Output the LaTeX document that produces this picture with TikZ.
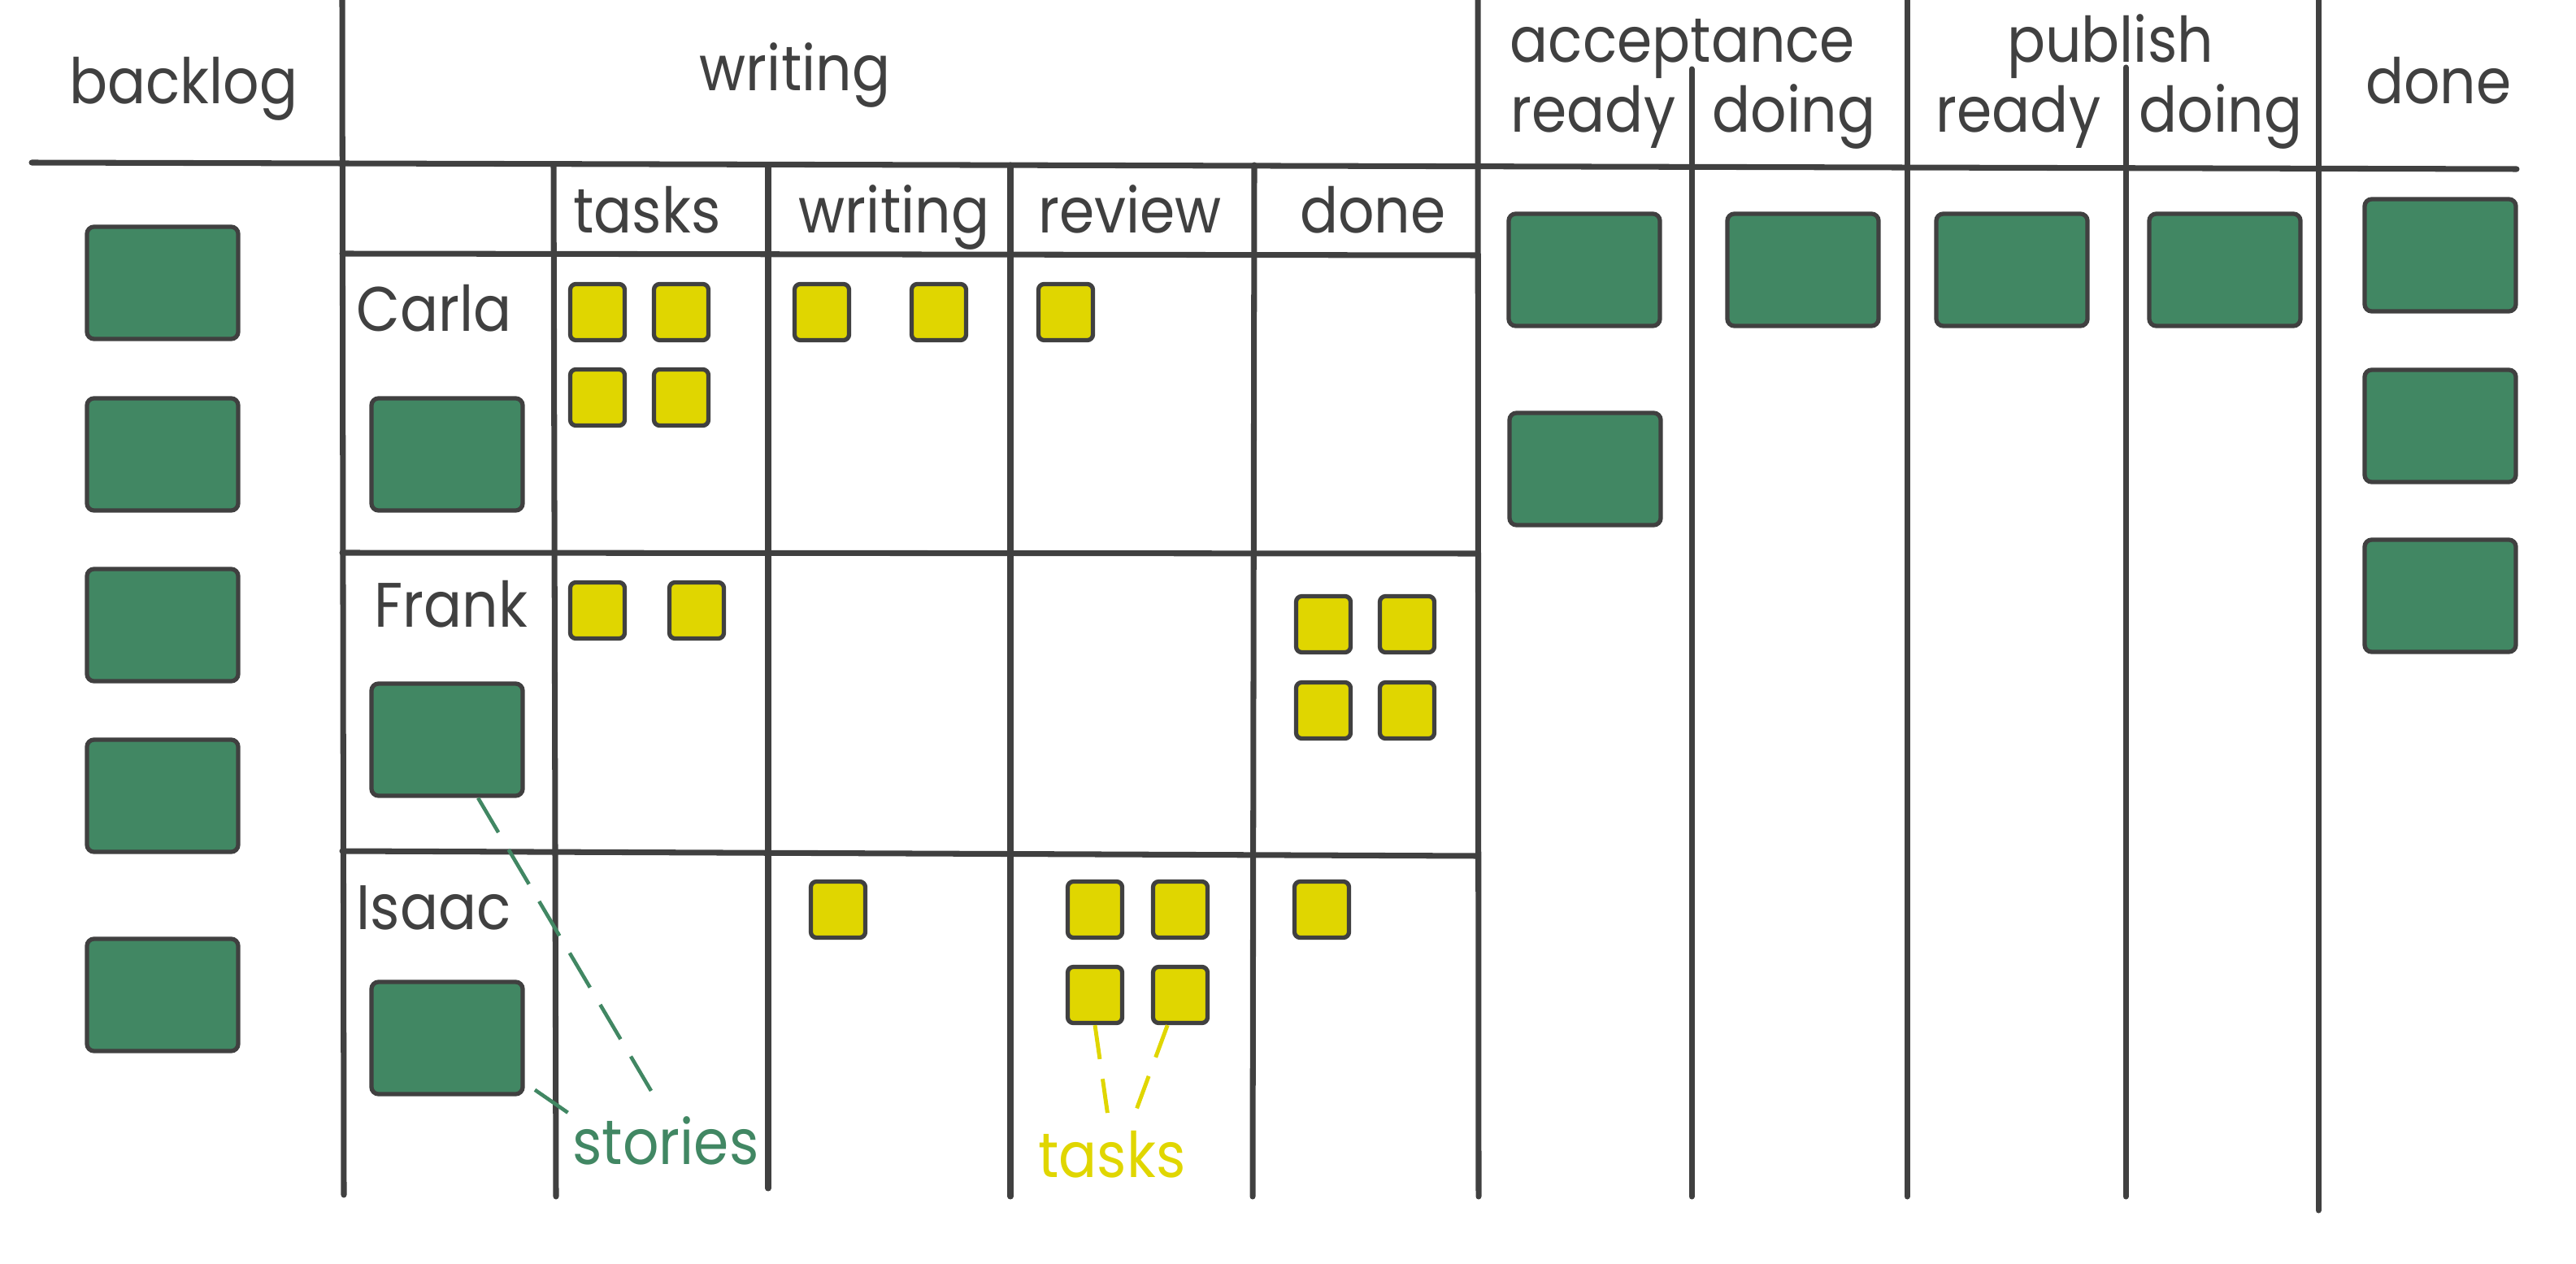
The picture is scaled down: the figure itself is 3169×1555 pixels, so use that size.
\documentclass[tikz,border=0pt]{standalone}
\usepackage{fontspec}
\setmainfont{Poppins}[FakeStretch=0.9]
\usepackage{xcolor}
\usepackage{tikz}
\definecolor{storygreen}{RGB}{65,135,99}
\definecolor{taskyellow}{RGB}{224,214,0}
\definecolor{boardgray}{RGB}{64,64,64}
\tikzset{
	story/.style={rectangle,rounded corners=2.5pt,draw=boardgray,fill=storygreen,line width=1.5pt,
		minimum width=1.86cm,minimum height=1.38cm,inner sep=0pt},
	task/.style={rectangle,rounded corners=2pt,draw=boardgray,fill=taskyellow,line width=1.5pt,
		minimum width=0.67cm,minimum height=0.69cm,inner sep=0pt},
	board/.style={boardgray,line width=2pt,line cap=round},
	head/.style={font=\fontsize{22}{26}\selectfont,text=boardgray,inner sep=0pt,anchor=base},
	note/.style={font=\fontsize{22}{26}\selectfont,inner sep=0pt,anchor=base},
	storyline/.style={storygreen,line width=1.3pt,dash pattern=on 14pt off 7pt},
	taskline/.style={taskyellow,line width=1.4pt,dash pattern=on 12pt off 7pt}
}

\begin{document}
\begin{tikzpicture}[x=0.01cm,y=-0.01cm]
	\useasboundingbox (0,0) rectangle (3169,1555);
	% board lines
	\draw[board] (39,200) -- (3096,208);
	\draw[board] (421,312) -- (1818,314);
	\draw[board] (421,680) -- (1818,681);
	\draw[board] (421,1047) -- (1818,1053);
	\draw[board] (421,0) -- (423,1470);
	\draw[board] (681,203) -- (684,1472);
	\draw[board] (945,203) -- (945,1462);
	\draw[board] (1243,203) -- (1243,1472);
	\draw[board] (1543,203) -- (1541,1472);
	\draw[board] (1818,0) -- (1819,1472);
	\draw[board] (2081,85) -- (2081,1472);
	\draw[board] (2346,0) -- (2346,1472);
	\draw[board] (2615,83) -- (2615,1472);
	\draw[board] (2852,0) -- (2852,1489);
	% column heads
	\node[head] (hbacklog) at (226,128) {backlog};
	\node[head] (hwriting) at (978,112) {writing};
	\node[head] (hacceptance) at (2070,77) {acceptance};
	\node[head] (haready) at (1960,163) {ready};
	\node[head] (hadoing) at (2207,163) {doing};
	\node[head] (hpublish) at (2596,77) {publish};
	\node[head] (hpready) at (2483,163) {ready};
	\node[head] (hpdoing) at (2732,163) {doing};
	\node[head] (hdone) at (3000,128) {done};
	\node[head] (htasks) at (796,287) {tasks};
	\node[head] (hwwriting) at (1100,287) {writing};
	\node[head] (hreview) at (1390,287) {review};
	\node[head] (hwdone) at (1689,287) {done};
	% people
	\node[head,anchor=base west] (ncarla) at (438,408) {Carla};
	\node[head,anchor=base west] (nfrank) at (460,771) {Frank};
	\node[head,anchor=base west] (nisaac) at (438,1143) {Isaac};
	% stories
	\node[story] (b1) at (200,348) {};
	\node[story] (b2) at (200,559) {};
	\node[story] (b3) at (200,769) {};
	\node[story] (b4) at (200,979) {};
	\node[story] (b5) at (200,1224) {};
	\node[story] (scarla) at (550,559) {};
	\node[story] (sfrank) at (550,910) {};
	\node[story] (sisaac) at (550,1277) {};
	\node[story] (ar1) at (1949,332) {};
	\node[story] (ar2) at (1950,577) {};
	\node[story] (ad1) at (2218,332) {};
	\node[story] (pr1) at (2475,332) {};
	\node[story] (pd1) at (2737,332) {};
	\node[story] (d1) at (3002,314) {};
	\node[story] (d2) at (3002,524) {};
	\node[story] (d3) at (3002,733) {};
	% tasks
	\node[task] (ct1) at (735,384) {};
	\node[task] (ct2) at (838,384) {};
	\node[task] (ct3) at (735,489) {};
	\node[task] (ct4) at (838,489) {};
	\node[task] (cw1) at (1011,384) {};
	\node[task] (cw2) at (1155,384) {};
	\node[task] (cr1) at (1311,384) {};
	\node[task] (ft1) at (735,751) {};
	\node[task] (ft2) at (857,751) {};
	\node[task] (fd1) at (1628,768) {};
	\node[task] (fd2) at (1731,768) {};
	\node[task] (fd3) at (1628,874) {};
	\node[task] (fd4) at (1731,874) {};
	\node[task] (iw1) at (1031,1119) {};
	\node[task] (ir1) at (1347,1119) {};
	\node[task] (ir2) at (1452,1119) {};
	\node[task] (ir3) at (1347,1224) {};
	\node[task] (ir4) at (1452,1224) {};
	\node[task] (id1) at (1626,1119) {};
	% notes
	\node[note,text=storygreen] (stories) at (819,1432) {stories};
	\node[note,text=taskyellow] (tasks) at (1368,1448) {tasks};
	\draw[storyline,shorten >=0.28cm] (sfrank.-62) -- (stories.north);
	\draw[storyline,shorten <=0.15cm] (sisaac.-30) -- (stories.north west);
	\draw[taskline,shorten >=0.19cm] (ir3.south) -- (tasks.95);
	\draw[taskline,shorten >=0.19cm] (ir4.-113) -- (tasks.55);
\end{tikzpicture}
\end{document}
